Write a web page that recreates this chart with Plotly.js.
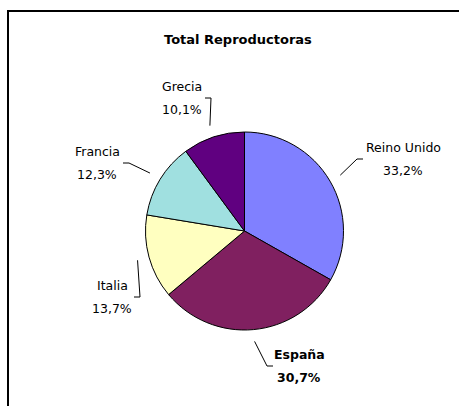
<!DOCTYPE html>
<html>
<head>
<meta charset="utf-8">
<script src="https://cdn.plot.ly/plotly-3.0.1.min.js"></script>
<style>
html,body{margin:0;padding:0;background:#fff;overflow:hidden;width:459px;height:406px;}
#wrap{position:relative;width:459px;height:406px;overflow:hidden;}
#chart{position:absolute;left:0;top:0;width:459px;height:406px;}
#frame{position:absolute;left:7px;top:10px;width:480px;height:420px;border-top:2px solid #000;border-left:2px solid #000;pointer-events:none;}
</style>
</head>
<body>
<div id="wrap"><div id="chart"></div><div id="frame"></div></div>
<script>
const W = 459, H = 406;
const chartTitle = 'Total Reproductoras';
const categories = ['Reino Unido', 'España', 'Italia', 'Francia', 'Grecia'];
const shares = [33.2, 30.7, 13.7, 12.3, 10.1];
const pctLabels = ['33,2%', '30,7%', '13,7%', '12,3%', '10,1%'];
const colors = ['#8080FF', '#802060', '#FFFFC0', '#A0E0E0', '#600080'];
const boldLabel = [false, true, false, false, false];

// layout (pixels): pie centre and radius, label block centres, leader attach offset and side
const pieC = [244.5, 231], pieR = 99;
const labelBox = [[403, 159, 40, -1], [299, 366, 26, -1], [112, 297, 22, 1], [97, 163, 26, 1], [182, 98, 23, 1]];

const px = x => x / W, py = y => 1 - y / H;
const total = shares.reduce((a, b) => a + b, 0);

const annotations = [{
  text: '<b>' + chartTitle + '</b>', x: px(238), y: py(39), xref: 'paper', yref: 'paper',
  showarrow: false, xanchor: 'center', yanchor: 'middle',
  font: {family: 'DejaVu Sans', size: 13, color: '#000'}
}];
const shapes = [];

let cum = 0;
shares.forEach((v, i) => {
  const mid = (cum + v / 2) / total * 2 * Math.PI;
  cum += v;
  const ex = pieC[0] + 1.12 * pieR * Math.sin(mid);
  const ey = pieC[1] - 1.12 * pieR * Math.cos(mid);
  const [cx, cy, off, side] = labelBox[i];
  const sx = cx + side * off, tx = sx + side * 6;
  shapes.push({
    type: 'path', xref: 'paper', yref: 'paper',
    path: `M${px(sx)},${py(cy)} L${px(tx)},${py(cy)} L${px(ex)},${py(ey)}`,
    line: {color: '#000', width: 1}
  });
  const b = s => boldLabel[i] ? '<b>' + s + '</b>' : s;
  annotations.push({
    text: b(categories[i]), x: px(cx), y: py(cy - 11.5), xref: 'paper', yref: 'paper',
    showarrow: false, xanchor: 'center', yanchor: 'middle',
    font: {family: 'DejaVu Sans', size: 12.5, color: '#000'}
  });
  annotations.push({
    text: b(pctLabels[i]), x: px(cx), y: py(cy + 11.5), xref: 'paper', yref: 'paper',
    showarrow: false, xanchor: 'center', yanchor: 'middle',
    font: {family: 'DejaVu Sans', size: 12.5, color: '#000'}
  });
});

const trace = {
  type: 'pie', values: shares, labels: categories, sort: false, direction: 'clockwise', rotation: 0,
  textinfo: 'none', hoverinfo: 'none', showlegend: false,
  marker: {colors: colors, line: {color: '#000', width: 1}},
  domain: {x: [px(pieC[0] - pieR), px(pieC[0] + pieR)], y: [py(pieC[1] + pieR), py(pieC[1] - pieR)]}
};

Plotly.newPlot('chart', [trace], {
  width: W, height: H, margin: {l: 0, r: 0, t: 0, b: 0},
  paper_bgcolor: '#fff', plot_bgcolor: '#fff', showlegend: false,
  annotations: annotations, shapes: shapes
}, {staticPlot: true});
</script>
</body>
</html>
